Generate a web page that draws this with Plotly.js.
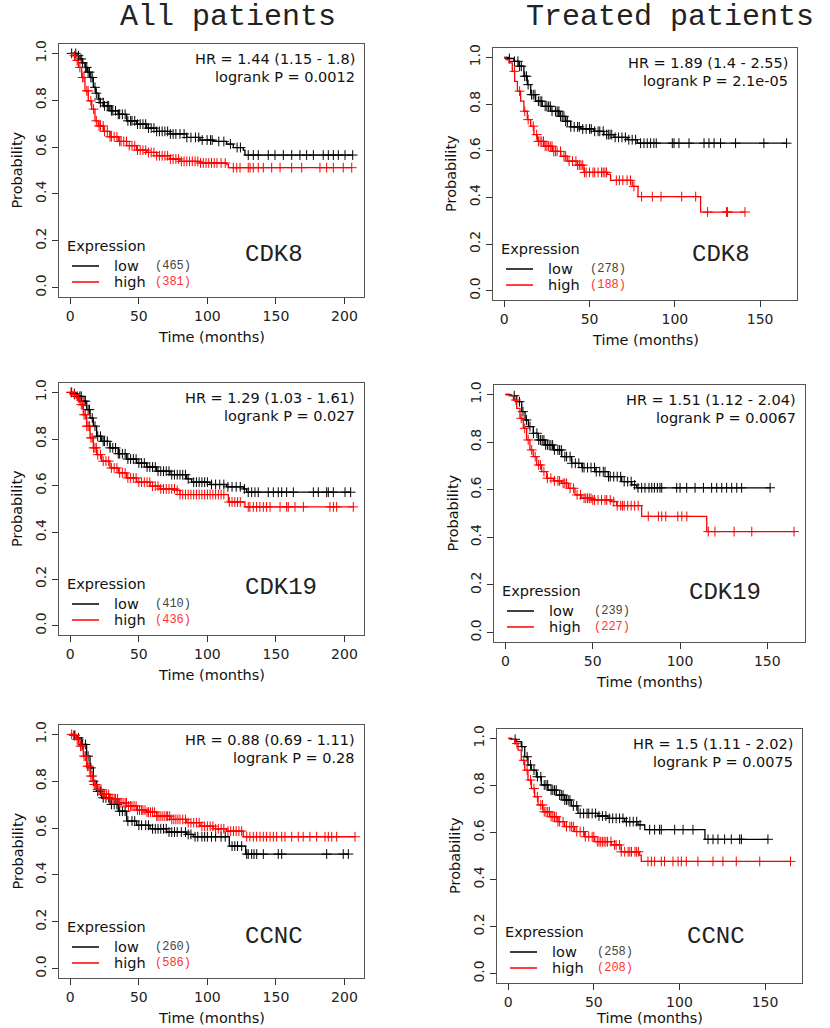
<!DOCTYPE html>
<html><head><meta charset="utf-8">
<script src="https://cdn.plot.ly/plotly-3.0.1.min.js"></script>
<style>html,body{margin:0;padding:0;background:#fff}</style>
</head><body><div id="chart" style="width:830px;height:1028px"></div>
<script>
// ---------- DATA ----------
const columnTitles = ["All patients", "Treated patients"];
const genes = ["CDK8", "CDK8", "CDK19", "CDK19", "CCNC", "CCNC"];
const hrText = ["HR = 1.44 (1.15 - 1.8)", "HR = 1.89 (1.4 - 2.55)", "HR = 1.29 (1.03 - 1.61)", "HR = 1.51 (1.12 - 2.04)", "HR = 0.88 (0.69 - 1.11)", "HR = 1.5 (1.11 - 2.02)"];
const pText = ["logrank P = 0.0012", "logrank P = 2.1e-05", "logrank P = 0.027", "logrank P = 0.0067", "logrank P = 0.28", "logrank P = 0.0075"];
const nLow = [465, 278, 410, 239, 260, 258];
const nHigh = [381, 188, 436, 227, 586, 208];
const yTicks = [0, 0.2, 0.4, 0.6, 0.8, 1.0];
const xTicksAll = [0, 50, 100, 150, 200];
const xTicksTreated = [0, 50, 100, 150];

// Panel 1: All patients, CDK8
const p1LowT = [5, 7.1, 9, 10.7, 12.5, 14.4, 16.8, 18.5, 20.4, 22, 24.1, 28.9, 35, 41.1, 48.4, 55.7, 63, 72.7, 84.9, 94.6, 104.3, 114, 118.9, 126.2, 127.4];
const p1LowS = [0.99, 0.976, 0.96, 0.94, 0.92, 0.897, 0.855, 0.83, 0.805, 0.79, 0.776, 0.755, 0.74, 0.712, 0.698, 0.681, 0.667, 0.656, 0.641, 0.63, 0.624, 0.613, 0.598, 0.587, 0.566];
const p1LowC = [1, 4, 6, 8, 9, 11, 12, 13, 14, 15, 16, 18, 19, 21, 22, 24, 25, 27, 28, 30, 31, 33, 35, 36, 38, 40, 42, 44, 45, 47, 49, 51, 53, 55, 57, 59, 61, 63, 65, 67, 69, 71, 73, 75, 77, 80, 83, 85, 88, 91.3, 93.7, 96.2, 99.8, 102.3, 103.5, 108.3, 112, 116.8, 121.7, 124.1, 129.8, 133.5, 137.1, 144.4, 149.3, 155.4, 161.5, 167.5, 172.4, 177.3, 184.5, 188.2, 191.9, 195.5, 200.4, 206];
const p1HighT = [2, 3.4, 5.9, 8.3, 10.7, 13.1, 15.6, 18, 20.4, 24.1, 28.9, 35, 41.1, 48.4, 55.7, 63, 72.7, 80, 94.6, 114, 115.3];
const p1HighS = [0.99, 0.97, 0.94, 0.897, 0.84, 0.797, 0.762, 0.712, 0.69, 0.667, 0.644, 0.624, 0.606, 0.587, 0.577, 0.563, 0.549, 0.539, 0.532, 0.527, 0.512];
const p1HighC = [3, 5, 7, 9, 10, 12, 13, 15, 17, 19, 21, 22, 24, 25, 27, 29, 30, 32, 34, 36, 37, 39, 41, 43, 45, 47, 49, 51, 53, 55, 57, 59, 61, 63, 65, 67, 69, 71, 73, 75, 77, 79, 81, 83, 85, 87, 89, 91, 93, 95, 97, 99, 101, 103, 105, 107, 110, 113, 118.9, 121.4, 123.8, 129.8, 131.1, 133.5, 137.1, 140.8, 146.9, 153, 161.5, 168.8, 182.1, 187, 191.9, 199.1, 205.3];

// Panel 2: Treated patients, CDK8
const p2LowT = [3, 5.7, 8.6, 11.5, 13.5, 15.5, 18.4, 22.3, 27.2, 32.1, 36, 38.9, 44.8, 52.6, 58.4, 64.3, 72.1, 78];
const p2LowS = [0.995, 0.983, 0.962, 0.919, 0.883, 0.84, 0.812, 0.79, 0.769, 0.747, 0.726, 0.702, 0.693, 0.683, 0.669, 0.657, 0.647, 0.632];
const p2LowC = [3, 6, 8, 9, 10, 12, 13, 14, 16, 17, 18, 20, 21, 22, 24, 25, 26, 27, 28, 30, 31, 32, 33, 34, 35, 36, 37, 39, 41, 43, 44, 46, 48, 50, 51, 53, 55, 56, 58, 60, 61, 62, 63, 65, 67, 69, 71, 73, 75, 77, 79.9, 81.9, 83.8, 85.8, 87.7, 89.1, 98.5, 99.5, 102.4, 108.3, 117.1, 120, 123, 126.8, 135.6, 152.2, 165.5];
const p2HighT = [1, 2.8, 4.7, 6.1, 7.7, 9.6, 11.5, 13.5, 15.5, 17.4, 19.4, 23.3, 28.2, 33.1, 36.9, 42.8, 46.7, 60.4, 62.3, 75, 78.4, 115.1];
const p2HighS = [0.99, 0.976, 0.94, 0.897, 0.855, 0.812, 0.769, 0.733, 0.705, 0.669, 0.64, 0.619, 0.597, 0.576, 0.555, 0.538, 0.507, 0.498, 0.473, 0.447, 0.403, 0.337];
const p2HighC = [6, 9, 12, 14, 17, 19, 20, 21, 22, 23, 24, 25, 26, 27, 28, 29, 30, 31, 33, 35, 36, 38, 40, 42, 43, 44, 45, 46, 47, 48, 50, 52, 53, 55, 57, 58, 59, 60, 65.7, 67.5, 69.5, 72, 74, 76, 80.5, 86.8, 91.9, 104, 112.2, 119.2, 130.3, 130.9, 141.1];

// Panel 3: All patients, CDK19
const p3LowT = [2, 4.6, 8.3, 11.9, 14.4, 16.8, 19.2, 22.9, 28.9, 35, 41.1, 48.4, 55.7, 63, 72.7, 84.9, 88.5, 101.9, 114, 126.2, 128.6];
const p3LowS = [0.995, 0.983, 0.962, 0.926, 0.89, 0.855, 0.812, 0.79, 0.762, 0.737, 0.714, 0.697, 0.68, 0.662, 0.647, 0.629, 0.615, 0.605, 0.595, 0.586, 0.572];
const p3LowC = [1, 3, 5, 7, 8, 10, 11, 13, 14, 16, 18, 20, 22, 24, 25, 27, 29, 31, 33, 35, 36, 38, 40, 42, 44, 46, 48, 50, 52, 54, 56, 58, 60, 62, 64, 66, 68, 70, 72, 74, 76, 78, 80, 82, 84, 86, 90, 92, 94, 96, 98, 100, 103, 106, 109, 112, 115, 118, 121, 124, 127, 129.8, 132.3, 134.7, 137.1, 144.4, 148.1, 151.7, 154.2, 157.8, 162.7, 177.3, 180.9, 187, 188.2, 191.9, 200.4, 204.5];
const p3HighT = [2, 4.6, 7.1, 9.5, 11.9, 14.4, 16.8, 19.2, 22.9, 28.9, 35, 41.1, 48.4, 58.2, 65.5, 77.6, 80, 115.3, 127.4];
const p3HighS = [0.99, 0.976, 0.947, 0.904, 0.855, 0.805, 0.762, 0.733, 0.705, 0.676, 0.655, 0.633, 0.615, 0.598, 0.586, 0.58, 0.562, 0.53, 0.509];
const p3HighC = [0.5, 3, 6, 8, 9, 10, 11, 12, 13, 14, 15, 16, 17, 18, 19, 20, 22, 24, 26, 28, 30, 32, 34, 36, 38, 40, 42, 44, 46, 48, 50, 52, 54, 56, 58, 60, 62, 64, 66, 68, 70, 72, 74, 76, 78, 80, 82, 84, 86, 88, 90, 92, 94, 96, 98, 100, 102, 104, 106, 108, 110, 112, 116, 118, 120, 122, 124, 129.8, 131, 133.5, 135.9, 138.3, 140.8, 143.2, 145.7, 153, 157.8, 159, 163.9, 170, 189.4, 191.9, 194.3, 206.4];

// Panel 4: Treated patients, CDK19
const p4LowT = [2, 3.5, 6.4, 9.3, 11.2, 13.1, 15.9, 18.8, 22.6, 27.4, 32.2, 37.9, 43.7, 51.3, 58.9, 66.6, 72.3, 75.2];
const p4LowS = [0.998, 0.995, 0.97, 0.928, 0.893, 0.865, 0.837, 0.809, 0.788, 0.767, 0.739, 0.711, 0.693, 0.676, 0.655, 0.634, 0.62, 0.608];
const p4LowC = [5, 8, 10, 12, 14, 16, 18, 19, 20, 21, 22, 23, 24, 25, 26, 27, 28, 30, 31, 32, 34, 35, 37, 38, 40, 42, 44, 45, 47, 49, 51, 52, 54, 56, 57, 59, 60, 62, 64, 66, 68, 70, 72, 74, 75.9, 78, 79.9, 82.2, 83.8, 85.3, 87, 88.5, 89.5, 98.1, 100, 103.8, 108.6, 113.4, 118.1, 121, 123.9, 126.7, 129.6, 132.5, 135.3, 151.6];
const p4HighT = [2, 4.5, 6.4, 8.3, 10.2, 12.1, 14, 15.9, 17.9, 20.7, 23.6, 27.4, 32.2, 36, 39.8, 43.7, 49.4, 60.9, 63.7, 78, 115.3];
const p4HighS = [0.995, 0.977, 0.942, 0.9, 0.858, 0.809, 0.767, 0.739, 0.704, 0.676, 0.648, 0.637, 0.627, 0.606, 0.578, 0.564, 0.557, 0.55, 0.533, 0.488, 0.424];
const p4HighC = [6, 9, 11, 13, 15, 17, 19, 20, 22, 24, 26, 28, 30, 31, 33, 34, 35, 37, 39, 41, 43, 45, 46, 47, 48, 49, 50, 51, 53, 55, 57, 58, 60, 62, 64, 66, 67, 68, 70, 72, 74, 76, 81.8, 87.6, 89.5, 91.8, 98.7, 101, 103.9, 116.2, 120, 131, 141.1, 165.3];

// Panel 5: All patients, CCNC
const p5LowT = [2, 5, 8.3, 11.9, 14.4, 16.8, 19.2, 22.9, 28.9, 35, 41.1, 48.4, 58.2, 70.3, 84.9, 89.7, 116, 127.9];
const p5LowS = [0.995, 0.985, 0.957, 0.907, 0.857, 0.8, 0.757, 0.729, 0.701, 0.672, 0.63, 0.612, 0.597, 0.583, 0.573, 0.563, 0.523, 0.489];
const p5LowC = [3, 6, 9, 11, 13, 15, 17, 20, 22, 24, 26, 28, 30, 32, 34, 36, 38, 40, 42, 45, 47, 50, 52, 55, 57, 60, 62, 64, 66, 68, 70, 72, 74, 76, 78, 81, 84, 86, 88, 91, 93, 96, 98, 100, 103, 106, 110, 113, 118, 120, 122, 125, 128.7, 129.8, 132.3, 134, 136, 140.8, 151.7, 154.2, 187, 199.1, 202.8];
const p5HighT = [2, 4.6, 7.1, 9.5, 11.9, 14.4, 16.8, 19.2, 22.9, 28.9, 35, 41.1, 48.4, 55.7, 63, 72.7, 84.9, 94.6, 104.3, 114, 126.2];
const p5HighS = [0.996, 0.978, 0.95, 0.907, 0.864, 0.822, 0.786, 0.765, 0.744, 0.725, 0.708, 0.694, 0.677, 0.668, 0.651, 0.637, 0.623, 0.608, 0.597, 0.587, 0.563];
const p5HighC = [1, 2.5, 3.5, 5, 6, 7.5, 8.5, 10, 11, 12.5, 13.5, 15, 16, 17.5, 18.5, 20, 21, 22.5, 24, 25, 26.5, 28, 29, 30.5, 32, 33, 34.5, 36, 37, 38.5, 40, 41, 42.5, 44, 45, 46.5, 48, 49, 50.5, 52, 53, 54.5, 56, 57, 58.5, 60, 61.5, 63, 64, 65.5, 67, 68.5, 70, 71, 72.5, 74, 75.5, 77, 78.5, 80, 82, 84, 86, 88, 90, 92, 94, 96, 98, 100, 102, 104, 106, 108, 110, 112, 115, 117, 119, 121, 123, 125, 128.7, 131, 133.5, 135.9, 138.4, 140.8, 143.2, 145.7, 148.1, 150.5, 154.2, 156.6, 161.5, 166.3, 169.9, 174.8, 179.7, 185.8, 188.2, 190.7, 194.3, 207.7];

// Panel 6: Treated patients, CCNC
const p6LowT = [2, 4.7, 7.6, 9.6, 11.5, 13.5, 16.4, 19.3, 23.2, 28.1, 32.9, 36.8, 40.7, 52.4, 58.2, 68, 75.8, 79.7, 114.9];
const p6LowS = [0.996, 0.986, 0.965, 0.922, 0.887, 0.865, 0.837, 0.802, 0.78, 0.759, 0.738, 0.713, 0.681, 0.67, 0.66, 0.646, 0.632, 0.612, 0.571];
const p6LowC = [4, 8, 11, 13, 15, 17, 19, 21, 22, 23, 25, 26, 27, 28, 30, 31, 32, 33, 34, 35, 36, 38, 40, 42, 44, 46, 47, 49, 51, 53, 55, 57, 59, 61, 63, 65, 67, 69, 71, 73, 75, 77, 82.6, 85.5, 88.4, 89.4, 97.2, 102.1, 107.9, 116.7, 119.6, 122.5, 126.4, 130.3, 135.2, 136.2, 151.7];
const p6HighT = [1, 3.7, 5.7, 7.6, 9.6, 11.5, 13.5, 15.4, 17.4, 20.3, 24.2, 29, 32.9, 38.8, 44.6, 50.5, 60.2, 66, 76.7, 77.7];
const p6HighS = [0.996, 0.978, 0.95, 0.907, 0.865, 0.823, 0.787, 0.752, 0.717, 0.688, 0.667, 0.646, 0.625, 0.604, 0.582, 0.561, 0.547, 0.518, 0.504, 0.477];
const p6HighC = [5, 9, 11, 13, 15, 17, 19, 20, 21, 22, 23, 24, 25, 26, 27, 28, 29, 30, 32, 34, 36, 37, 38, 40, 42, 44, 45, 47, 49, 50, 52, 53, 54, 55, 56, 57, 58, 60, 62, 63, 65, 66, 68, 70, 71, 72, 74, 75, 76, 81.6, 83.6, 85.5, 89.4, 91.3, 96.2, 99.2, 101.1, 104, 110.8, 119.6, 125.4, 133.2, 146.9, 164.9];

// ---------- LAYOUT CONFIG (pixel boxes, offsets) ----------
const W = 830, H = 1028;
const boxes = [
  {l: 59, r: 364, t: 44, b: 297}, {l: 493, r: 797, t: 48, b: 300},
  {l: 59, r: 364, t: 383, b: 635}, {l: 494, r: 805, t: 385, b: 642},
  {l: 59, r: 364, t: 725, b: 978}, {l: 497, r: 802, t: 729, b: 983}
];
const geneOff = [[184, 43], [197, 46], [184, 48], [193, 50], [184, 42], [188, 47]];
const countOff = [94, 95, 94, 98, 94, 98];
const xTitleOff = [40, 40, 40, 40, 40, 35];

const curves = [
  [p1LowT, p1LowS, p1LowC, p1HighT, p1HighS, p1HighC],
  [p2LowT, p2LowS, p2LowC, p2HighT, p2HighS, p2HighC],
  [p3LowT, p3LowS, p3LowC, p3HighT, p3HighS, p3HighC],
  [p4LowT, p4LowS, p4LowC, p4HighT, p4HighS, p4HighC],
  [p5LowT, p5LowS, p5LowC, p5HighT, p5HighS, p5HighC],
  [p6LowT, p6LowS, p6LowC, p6HighT, p6HighS, p6HighC]
];

const SANS = 'DejaVu Sans, sans-serif';
const MONO = 'Liberation Mono, Courier New, monospace';
const RED = '#ff0000';
const px = x => x / W;
const py = y => 1 - y / H;

function survAt(T, S, t) {
  let s = 1;
  for (let i = 0; i < T.length; i++) { if (T[i] <= t) s = S[i]; else break; }
  return s;
}

const traces = [];
const layout = {
  width: W, height: H, margin: {l: 0, r: 0, t: 0, b: 0},
  paper_bgcolor: '#fff', plot_bgcolor: '#fff', showlegend: false,
  annotations: [], shapes: []
};

curves.forEach((c, i) => {
  const k = i + 1;
  const xa = k === 1 ? 'x' : 'x' + k, ya = k === 1 ? 'y' : 'y' + k;
  const bx = boxes[i];
  const treated = i % 2 === 1;
  const xr = treated ? [-6.6, 171.6] : [-8.24, 214.24];
  const xt = treated ? xTicksTreated : xTicksAll;
  const groups = [[c[0], c[1], c[2], '#000000'], [c[3], c[4], c[5], RED]];
  groups.forEach(([T, S, C, col]) => {
    const end = Math.max(...C);
    traces.push({
      type: 'scatter', mode: 'lines', xaxis: xa, yaxis: ya,
      x: [0].concat(T, [end]), y: [1].concat(S, [S[S.length - 1]]),
      line: {shape: 'hv', color: col, width: 1.3}, hoverinfo: 'skip'
    });
    traces.push({
      type: 'scatter', mode: 'markers', xaxis: xa, yaxis: ya,
      x: C, y: C.map(t => survAt(T, S, t)),
      marker: {symbol: 'cross-thin', size: 7, color: col, line: {width: 1, color: col}},
      hoverinfo: 'skip'
    });
  });
  const axBase = {showgrid: false, zeroline: false, showline: true, mirror: true,
    linecolor: '#555', linewidth: 1, ticks: 'outside', ticklen: 6, tickcolor: '#333',
    tickfont: {family: SANS, size: 14, color: '#222'}, fixedrange: true};
  layout['xaxis' + (k === 1 ? '' : k)] = Object.assign({}, axBase, {
    domain: [px(bx.l), px(bx.r)], anchor: ya, range: xr, tickvals: xt,
    ticktext: xt.map(String)
  });
  layout['yaxis' + (k === 1 ? '' : k)] = Object.assign({}, axBase, {
    domain: [py(bx.b), py(bx.t)], anchor: xa, range: [-0.04, 1.04],
    tickvals: yTicks, ticktext: yTicks.map(v => v.toFixed(1)), tickangle: -90
  });
  const A = layout.annotations;
  const add = (o) => A.push(Object.assign({xref: 'paper', yref: 'paper', showarrow: false}, o));
  // HR and p
  add({x: px(bx.r - 7), y: py(bx.t + 15), xanchor: 'right', yanchor: 'middle', text: hrText[i], font: {family: SANS, size: 14.5, color: '#111'}});
  add({x: px(bx.r - 7), y: py(bx.t + 33), xanchor: 'right', yanchor: 'middle', text: pText[i], font: {family: SANS, size: 14.5, color: '#111'}});
  // gene
  add({x: px(bx.l + geneOff[i][0]), y: py(bx.b - geneOff[i][1]), xanchor: 'left', yanchor: 'middle', text: genes[i], font: {family: MONO, size: 24, color: '#222'}});
  // legend
  add({x: px(bx.l + 6), y: py(bx.b - 51), xanchor: 'left', yanchor: 'middle', text: 'Expression', font: {family: SANS, size: 14.5, color: '#111'}});
  add({x: px(bx.l + 53), y: py(bx.b - 31), xanchor: 'left', yanchor: 'middle', text: 'low', font: {family: SANS, size: 14.5, color: '#111'}});
  add({x: px(bx.l + 53), y: py(bx.b - 15), xanchor: 'left', yanchor: 'middle', text: 'high', font: {family: SANS, size: 14.5, color: '#111'}});
  add({x: px(bx.l + countOff[i]), y: py(bx.b - 31), xanchor: 'left', yanchor: 'middle', text: '(' + nLow[i] + ')', font: {family: MONO, size: 12, color: '#444'}});
  add({x: px(bx.l + countOff[i]), y: py(bx.b - 15), xanchor: 'left', yanchor: 'middle', text: '(' + nHigh[i] + ')', font: {family: MONO, size: 12, color: '#ff3333'}});
  layout.shapes.push({type: 'line', xref: 'paper', yref: 'paper', x0: px(bx.l + 13), x1: px(bx.l + 40), y0: py(bx.b - 31), y1: py(bx.b - 31), line: {color: '#000', width: 1.5}});
  layout.shapes.push({type: 'line', xref: 'paper', yref: 'paper', x0: px(bx.l + 13), x1: px(bx.l + 40), y0: py(bx.b - 15), y1: py(bx.b - 15), line: {color: RED, width: 1.5}});
  // axis titles
  add({x: px(bx.l - 42), y: py((bx.t + bx.b) / 2), xanchor: 'center', yanchor: 'middle', textangle: -90, text: 'Probability', font: {family: SANS, size: 14.5, color: '#111'}});
  add({x: px((bx.l + bx.r) / 2), y: py(bx.b + xTitleOff[i]), xanchor: 'center', yanchor: 'middle', text: 'Time (months)', font: {family: SANS, size: 14.5, color: '#111'}});
});

layout.annotations.push({xref: 'paper', yref: 'paper', showarrow: false, x: px(228), y: py(17), xanchor: 'center', yanchor: 'middle', text: columnTitles[0], font: {family: MONO, size: 30, color: '#222'}});
layout.annotations.push({xref: 'paper', yref: 'paper', showarrow: false, x: px(670), y: py(17), xanchor: 'center', yanchor: 'middle', text: columnTitles[1], font: {family: MONO, size: 30, color: '#222'}});

Plotly.newPlot('chart', traces, layout, {displayModeBar: false, staticPlot: true});
</script>
</body></html>
